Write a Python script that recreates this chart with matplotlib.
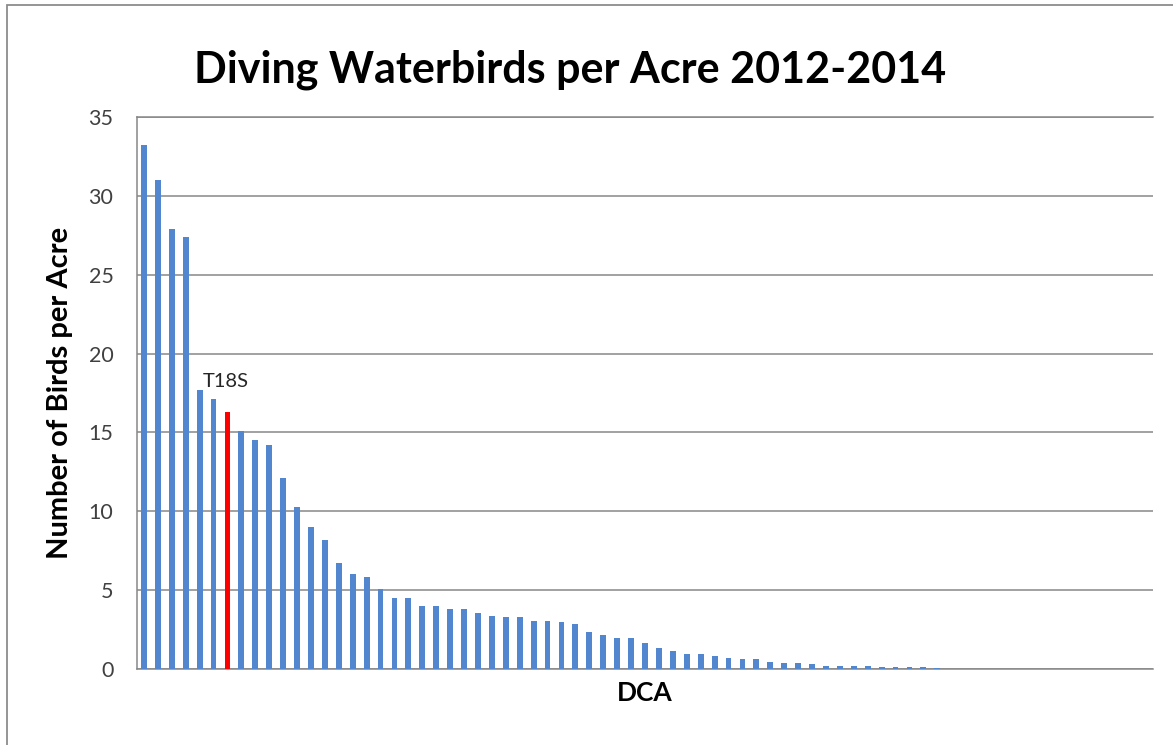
import matplotlib
matplotlib.use("Agg")
import matplotlib.pyplot as plt
from matplotlib.patches import Rectangle

# Birds per acre for each DCA, sorted high to low
birds_per_acre = [
    33.2, 31.0, 27.9, 27.4, 17.7, 17.1, 16.3, 15.1, 14.5, 14.2,
    12.1, 10.3, 9.0, 8.2, 6.75, 6.05, 5.85, 5.1, 4.5, 4.5,
    4.0, 4.0, 3.78, 3.78, 3.57, 3.38, 3.27, 3.27, 3.06, 3.06,
    2.97, 2.87, 2.36, 2.15, 1.96, 1.96, 1.65, 1.35, 1.14, 0.95,
    0.95, 0.82, 0.72, 0.63, 0.63, 0.42, 0.36, 0.36, 0.32, 0.21,
    0.21, 0.21, 0.21, 0.13, 0.13, 0.13, 0.13, 0.08,
    0, 0, 0, 0, 0, 0, 0, 0, 0, 0, 0, 0, 0, 0, 0,
]
highlight_index = 6
highlight_label = "T18S"
y_ticks = [0, 5, 10, 15, 20, 25, 30, 35]

BLUE = "#5287D0"
RED = "#FF0000"
GRID = "#878787"

plt.rcParams['font.family'] = ['Lato', 'DejaVu Sans']

fig = plt.figure(figsize=(11.73, 7.45), dpi=100)
ax = fig.add_axes([137 / 1173, 76 / 745, 1016 / 1173, 552 / 745])

# chart border
fig.patches.append(Rectangle((7 / 1173, -0.05), 1.1, (745 - 5) / 745 + 0.05,
                             transform=fig.transFigure, fill=False,
                             edgecolor="#8c8c8c", linewidth=1.3))

xs = list(range(len(birds_per_acre)))
colors = [RED if i == highlight_index else BLUE for i in xs]
ax.bar(xs, birds_per_acre, width=0.42, color=colors, zorder=3)

ax.set_xlim(-0.5, len(birds_per_acre) - 0.5)
ax.set_ylim(0, 35)
ax.set_yticks(y_ticks)
ax.set_xticks([])
ax.yaxis.grid(True, color=GRID, linewidth=1.1, zorder=0)
ax.tick_params(axis="y", length=0, pad=17, labelsize=15.5, labelcolor="#404040")

ax.spines["right"].set_visible(False)
for side in ["left", "bottom", "top"]:
    ax.spines[side].set_color(GRID)
    ax.spines[side].set_linewidth(1.1)

ax.text(4.2, 17.9, highlight_label, ha="left", va="baseline", fontsize=14.5, color="#262626")

ax.set_ylabel("Number of Birds per Acre", fontsize=21, fontweight="bold")
ax.yaxis.set_label_coords((60 - 137) / 1016, 0.5)
ax.set_xlabel("DCA", fontsize=19, fontweight="bold")
ax.xaxis.set_label_coords(0.5, -(693 - 669) / 552)
ax.xaxis.label.set_va("center")
ax.yaxis.label.set_va("center")
fig.text(570 / 1173, (745 - 70) / 745, "Diving Waterbirds per Acre 2012-2014",
         ha="center", va="center", fontsize=31, fontweight="bold")

fig.savefig("out.png", dpi=100)
